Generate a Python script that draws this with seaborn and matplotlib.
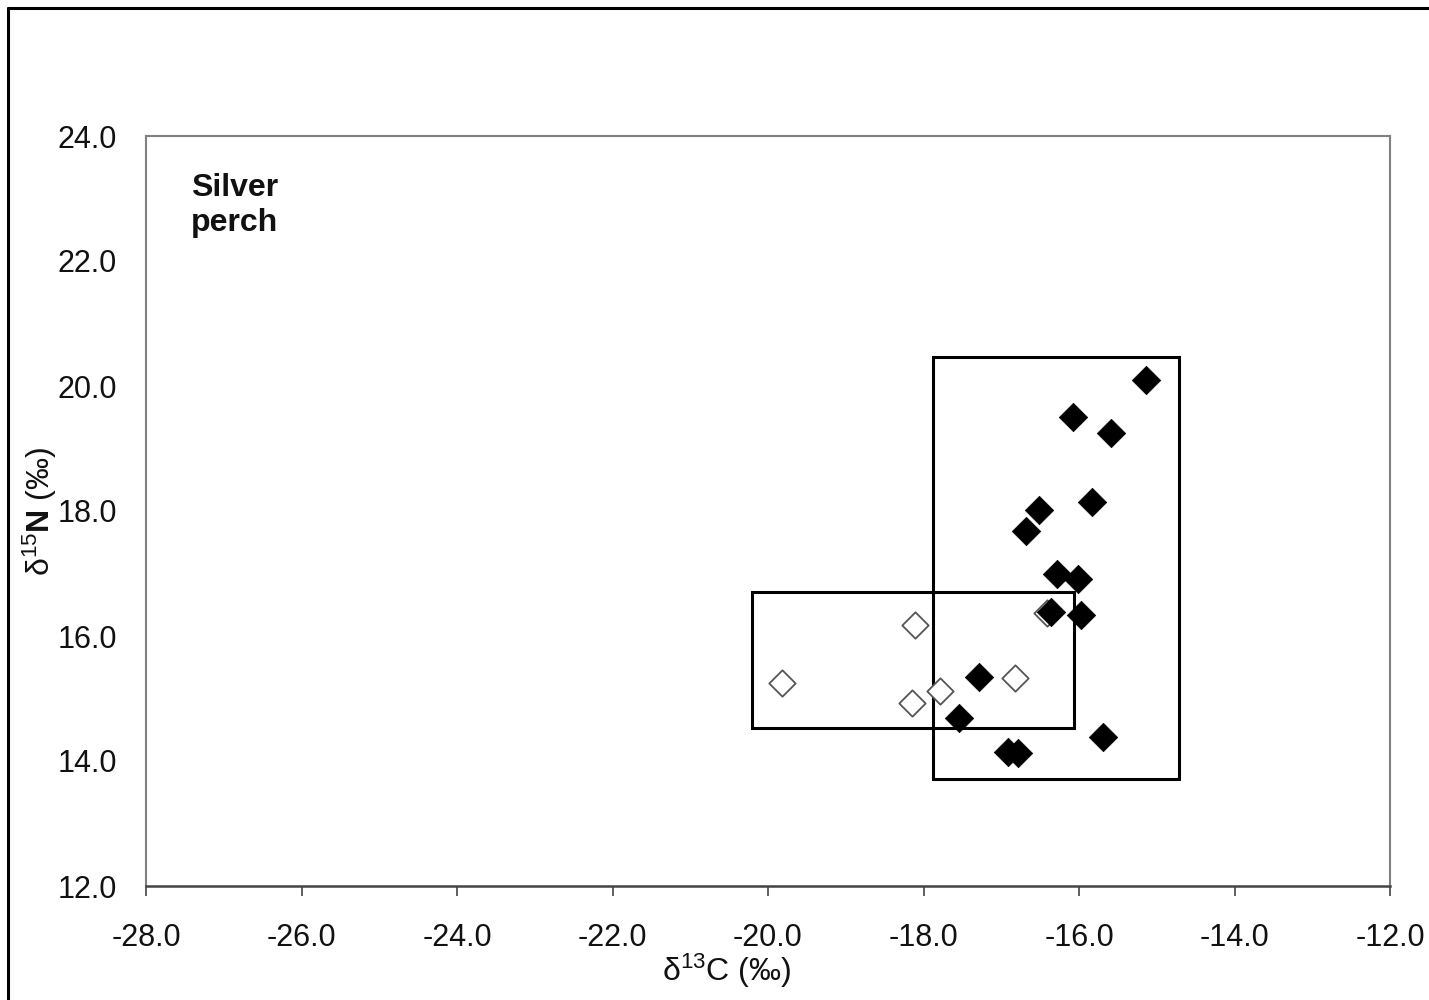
import matplotlib
matplotlib.use("Agg")
import matplotlib.pyplot as plt
import seaborn as sns
import pandas as pd
from matplotlib.patches import Rectangle
from matplotlib.lines import Line2D

# ---- data ----
filled_c = [-15.14, -16.08, -15.59, -16.51, -15.83, -16.68, -16.28, -16.01, -16.36, -15.97,
            -17.29, -17.54, -16.91, -16.78, -15.69]
filled_n = [20.10, 19.50, 19.25, 18.02, 18.14, 17.68, 16.99, 16.91, 16.38, 16.34,
            15.34, 14.69, 14.14, 14.13, 14.38]
open_c = [-18.11, -19.82, -17.79, -18.15, -16.82, -16.41]
open_n = [16.18, 15.25, 15.12, 14.93, 15.33, 16.37]
# boxes: (c_min, c_max, n_min, n_max)
box_filled = [-17.88, -14.72, 13.72, 20.46]
box_open = [-20.21, -16.07, 14.53, 16.71]
x_ticks = [-28, -26, -24, -22, -20, -18, -16, -14, -12]
y_ticks = [12, 14, 16, 18, 20, 22, 24]
label_text = "Silver\nperch"

sns.set_theme(style="white")
plt.rcParams['font.family'] = ['Liberation Sans', 'DejaVu Sans']
plt.rcParams['mathtext.fontset'] = 'custom'
plt.rcParams['mathtext.rm'] = 'Liberation Sans'
plt.rcParams['mathtext.it'] = 'Liberation Sans:italic'
plt.rcParams['mathtext.bf'] = 'Liberation Sans:bold'

fig = plt.figure(figsize=(14.29, 10), dpi=100)
ax = fig.add_axes([146/1429, 0.114, (1390-146)/1429, 0.75])

df_f = pd.DataFrame({"c": filled_c, "n": filled_n})
df_o = pd.DataFrame({"c": open_c, "n": open_n})

sns.scatterplot(data=df_o, x="c", y="n", marker="D", s=180, facecolor="white",
                edgecolor="#555555", linewidth=1.3, ax=ax, zorder=3)
sns.scatterplot(data=df_f, x="c", y="n", marker="D", s=210, color="black",
                edgecolor="black", linewidth=0.5, ax=ax, zorder=4)

for b in (box_filled, box_open):
    ax.add_patch(Rectangle((b[0], b[2]), b[1]-b[0], b[3]-b[2], fill=False,
                           edgecolor="black", linewidth=2.2, zorder=2))

ax.set_xlim(-28, -12)
ax.set_ylim(12, 24)
ax.set_xticks(x_ticks)
ax.set_yticks(y_ticks)
ax.set_xticklabels([f"{v:.1f}" for v in x_ticks])
ax.set_yticklabels([f"{v:.1f}" for v in y_ticks])
ax.tick_params(axis="x", length=7, width=1.2, color="#444444", pad=20, labelsize=22,
               labelcolor="#111111", direction="out", bottom=True)
ax.tick_params(axis="y", length=0, pad=21, labelsize=22, labelcolor="#111111")

for side in ["left", "top", "right"]:
    ax.spines[side].set_color("#808080")
    ax.spines[side].set_linewidth(1.5)
ax.spines["bottom"].set_color("#444444")
ax.spines["bottom"].set_linewidth(1.8)

ax.set_xlabel("δ$^{13}$C (‰)", fontsize=23, color="#111111")
ax.set_ylabel("δ$^{15}$$\\mathbf{N}$ (‰)", fontsize=23, color="#111111")
ax.xaxis.set_label_coords(0.467, -0.087)
ax.yaxis.set_label_coords(-0.07, 0.5)

ax.text(0.036, 0.951, label_text, transform=ax.transAxes, fontsize=23,
        fontweight="bold", va="top", ha="left", linespacing=1.22, color="#111111")

# outer frame
fig.add_artist(Line2D([8/1429, 1.0], [1-8/1000, 1-8/1000], color="black", linewidth=2.2,
                      transform=fig.transFigure))
fig.add_artist(Line2D([8/1429, 8/1429], [0, 1-8/1000], color="black", linewidth=2.2,
                      transform=fig.transFigure))

fig.savefig("out.png", dpi=100)
